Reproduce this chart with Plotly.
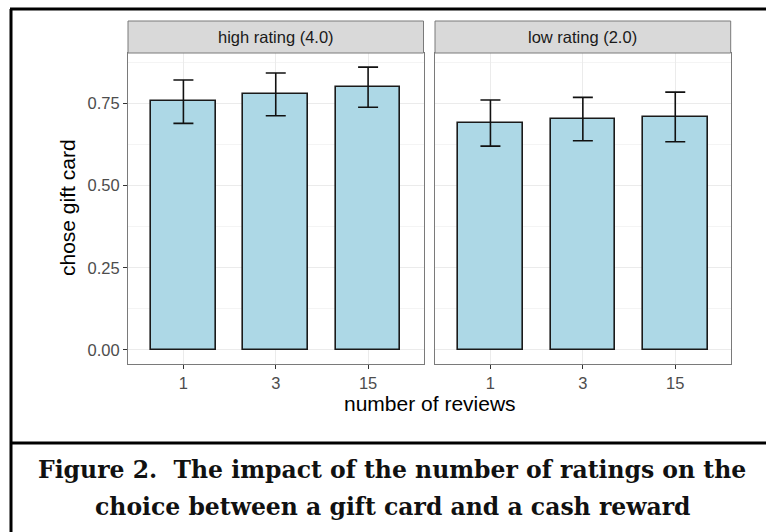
import plotly.graph_objects as go

# Share of participants choosing the gift card, by number of reviews
review_counts = ["1", "3", "15"]
panel_titles = ["high rating (4.0)", "low rating (2.0)"]
high_mean = [0.756, 0.777, 0.799]
high_low = [0.689, 0.712, 0.738]
high_high = [0.821, 0.842, 0.860]
low_mean = [0.689, 0.703, 0.708]
low_low = [0.620, 0.636, 0.633]
low_high = [0.760, 0.768, 0.784]
y_ticks = [0.0, 0.25, 0.5, 0.75]
y_tick_text = ["0.00", "0.25", "0.50", "0.75"]
y_minor = [0.125, 0.375, 0.625, 0.875]

W, H = 766, 532
SANS = "Liberation Sans, Arial, sans-serif"


def px(x):
    return x / W


def py(y):
    return 1 - y / H


fig = go.Figure()

panels = [
    (high_mean, high_low, high_high, "x", "y"),
    (low_mean, low_low, low_high, "x2", "y2"),
]
for mean, lo, hi, xa, ya in panels:
    fig.add_trace(go.Bar(
        x=review_counts, y=mean, xaxis=xa, yaxis=ya,
        width=0.7,
        marker=dict(color="#add8e6", line=dict(color="#1a1a1a", width=1.6)),
        error_y=dict(
            type="data", symmetric=False,
            array=[h - m for h, m in zip(hi, mean)],
            arrayminus=[m - l for m, l in zip(mean, lo)],
            color="#111111", thickness=1.6, width=10,
        ),
        showlegend=False, hoverinfo="skip",
    ))

grid_major = "#ebebeb"
grid_minor = "#f4f4f4"
frame_grey = "#7a7a7a"
tick_font = dict(family=SANS, size=16.5, color="#4d4d4d")

xcommon = dict(
    type="category", range=[-0.6, 2.6],
    showgrid=True, gridcolor=grid_major, gridwidth=1.1,
    showline=True, linecolor=frame_grey, linewidth=1, mirror=True,
    ticks="outside", ticklen=4, tickcolor="#333333", tickwidth=1,
    tickfont=tick_font,
    zeroline=False,
)
ycommon = dict(
    range=[-0.0426, 0.903],
    tickvals=y_ticks, ticktext=y_tick_text,
    showgrid=True, gridcolor=grid_major, gridwidth=1.1,
    minor=dict(tickvals=y_minor, showgrid=True, gridcolor=grid_minor, gridwidth=0.6),
    showline=True, linecolor=frame_grey, linewidth=1, mirror=True,
    tickfont=tick_font,
    zeroline=False,
)

dom_y = [py(364), py(53)]
fig.update_layout(
    width=W, height=H,
    margin=dict(l=0, r=0, t=0, b=0),
    paper_bgcolor="white", plot_bgcolor="white",
    bargap=0,
    xaxis=dict(xcommon, domain=[px(128), px(423.5)], anchor="y"),
    xaxis2=dict(xcommon, domain=[px(435), px(730.7)], anchor="y2"),
    yaxis=dict(ycommon, domain=dom_y, anchor="x",
               ticks="outside", ticklen=4, tickcolor="#333333", tickwidth=1),
    yaxis2=dict(ycommon, domain=dom_y, anchor="x2", showticklabels=False, ticks=""),
)

shapes = []
annotations = []
# facet strips
for (x0, x1), title in zip([(128, 423.5), (435, 730.7)], panel_titles):
    shapes.append(dict(type="rect", xref="paper", yref="paper",
                       x0=px(x0), x1=px(x1), y0=py(53), y1=py(21),
                       fillcolor="#d9d9d9", line=dict(color=frame_grey, width=1)))
    annotations.append(dict(xref="paper", yref="paper", x=px((x0 + x1) / 2), y=py(37),
                            text=title, showarrow=False, xanchor="center", yanchor="middle",
                            font=dict(family=SANS, size=16.5, color="#1a1a1a")))

# axis titles
annotations.append(dict(xref="paper", yref="paper", x=px(429.5), y=py(403),
                        text="number of reviews", showarrow=False,
                        xanchor="center", yanchor="middle",
                        font=dict(family=SANS, size=21, color="#000000")))
annotations.append(dict(xref="paper", yref="paper", x=px(67), y=py(208),
                        text="chose gift card", showarrow=False, textangle=-90,
                        xanchor="center", yanchor="middle",
                        font=dict(family=SANS, size=21, color="#000000")))

# caption
cap_font = dict(family="DejaVu Serif, Georgia, serif", size=23.5, color="#111111")
annotations.append(dict(xref="paper", yref="paper", x=px(392), y=py(470),
                        text="<b>Figure 2.  The impact of the number of ratings on the</b>",
                        showarrow=False, xanchor="center", yanchor="middle", font=cap_font))
annotations.append(dict(xref="paper", yref="paper", x=px(393), y=py(507),
                        text="<b>choice between a gift card and a cash reward</b>",
                        showarrow=False, xanchor="center", yanchor="middle", font=cap_font))

# outer frame lines
line_k = dict(color="#000000", width=3)
shapes.append(dict(type="line", xref="paper", yref="paper", x0=px(10), x1=1, y0=py(9), y1=py(9), line=line_k))
shapes.append(dict(type="line", xref="paper", yref="paper", x0=px(11), x1=px(11), y0=py(9), y1=0, line=line_k))
shapes.append(dict(type="line", xref="paper", yref="paper", x0=px(10), x1=1, y0=py(443), y1=py(443), line=line_k))

fig.update_layout(shapes=shapes, annotations=annotations)
fig.write_html("out.html")
